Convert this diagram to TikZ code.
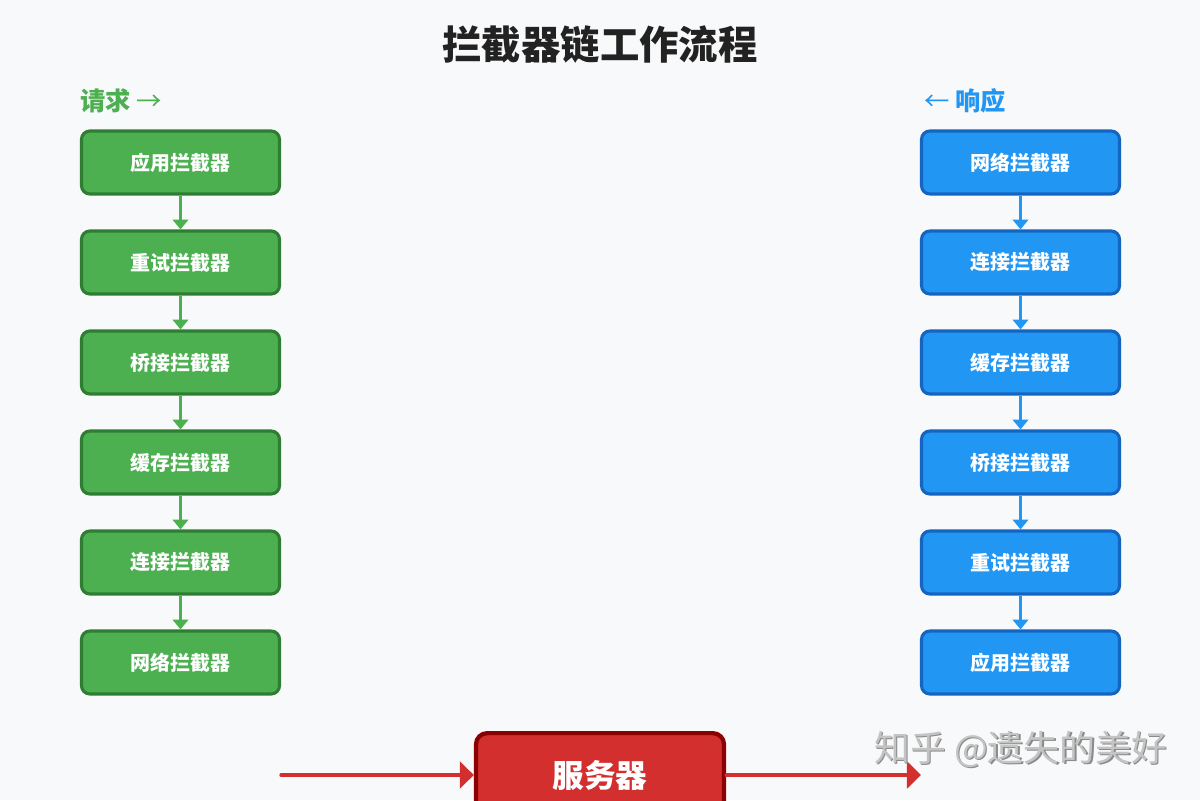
\documentclass[tikz,border=0pt]{standalone}
\usepackage{fontspec}
\setmainfont{Noto Sans CJK SC}
\usetikzlibrary{arrows.meta}
\definecolor{bg}{HTML}{F8F9FA}
\definecolor{gfill}{HTML}{4CAF50}
\definecolor{gline}{HTML}{2E7D32}
\definecolor{bfill}{HTML}{2196F3}
\definecolor{bline}{HTML}{1565C0}
\definecolor{rfill}{HTML}{D32F2F}
\definecolor{rline}{HTML}{8B0000}
\definecolor{titlec}{HTML}{222222}
\definecolor{wm}{HTML}{C4C4C4}
\definecolor{wmsh}{HTML}{8A8A8A}
\tikzset{
  box/.style={draw, line width=2.2pt, rounded corners=6pt, minimum width=4.95cm, minimum height=1.575cm, inner sep=0pt, text=white, font=\fontsize{14.2pt}{16pt}\selectfont\bfseries},
  gbox/.style={box, fill=gfill, draw=gline},
  bbox/.style={box, fill=bfill, draw=bline},
  garrow/.style={draw=gfill, line width=1.6pt, -{Triangle[width=11pt,length=7pt]}},
  barrow/.style={draw=bfill, line width=1.6pt, -{Triangle[width=11pt,length=7pt]}},
  rarrow/.style={draw=rfill, line width=2.4pt, line cap=round, -{Triangle[width=19pt,length=10pt]}},
  lbl/.style={font=\fontsize{18pt}{20pt}\selectfont\bfseries, inner sep=0pt},
  wmtext/.style={anchor=west, font=\fontsize{25.5pt}{28pt}\selectfont, inner sep=0pt},
}
\begin{document}
\begin{tikzpicture}[x=0.025cm,y=-0.025cm]
\useasboundingbox (0,0) rectangle (1200,800);
\clip (0,0) rectangle (1200,800);
\fill[bg] (0,0) rectangle (1200,800);
\node[font=\fontsize{28pt}{32pt}\selectfont\bfseries, text=titlec] (title) at (600,45) {拦截器链工作流程};
\node[lbl, anchor=west, text=gfill] (req) at (80,101) {请求 {\mdseries →}};
\node[lbl, anchor=east, text=bfill] (resp) at (1006,101) {{\mdseries ←} 响应};
% left column
\node[gbox] (g1) at (180.5,162.5) {应用拦截器};
\node[gbox] (g2) at (180.5,262.5) {重试拦截器};
\node[gbox] (g3) at (180.5,362.5) {桥接拦截器};
\node[gbox] (g4) at (180.5,462.5) {缓存拦截器};
\node[gbox] (g5) at (180.5,562.5) {连接拦截器};
\node[gbox] (g6) at (180.5,662.5) {网络拦截器};
\foreach \a/\b in {g1/g2,g2/g3,g3/g4,g4/g5,g5/g6} \draw[garrow] (\a.south) -- (\b.north);
% right column
\node[bbox] (b1) at (1020.5,162.5) {网络拦截器};
\node[bbox] (b2) at (1020.5,262.5) {连接拦截器};
\node[bbox] (b3) at (1020.5,362.5) {缓存拦截器};
\node[bbox] (b4) at (1020.5,462.5) {桥接拦截器};
\node[bbox] (b5) at (1020.5,562.5) {重试拦截器};
\node[bbox] (b6) at (1020.5,662.5) {应用拦截器};
\foreach \a/\b in {b1/b2,b2/b3,b3/b4,b4/b5,b5/b6} \draw[barrow] (\a.south) -- (\b.north);
% server
\node[draw=rline, fill=rfill, line width=3pt, rounded corners=8pt, minimum width=6.2cm, minimum height=2.4cm, anchor=north, inner sep=0pt] (srv) at (600,731) {};
\node[text=white, font=\fontsize{22.5pt}{26pt}\selectfont\bfseries] (srvt) at (600,775) {服务器};
\coordinate (inL) at (281,775);
\coordinate (outR) at (921,775);
\draw[rarrow] (inL) -- (srv.west |- inL);
\draw[rarrow] (srv.east |- outR) -- (outR);
% watermark
\node[wmtext, text=wmsh] (wmks) at (875.5,750.5) {知乎 @遗失的美好};
\node[wmtext, text=wm] (wmk) at (874,749) {知乎 @遗失的美好};
\end{tikzpicture}
\end{document}
